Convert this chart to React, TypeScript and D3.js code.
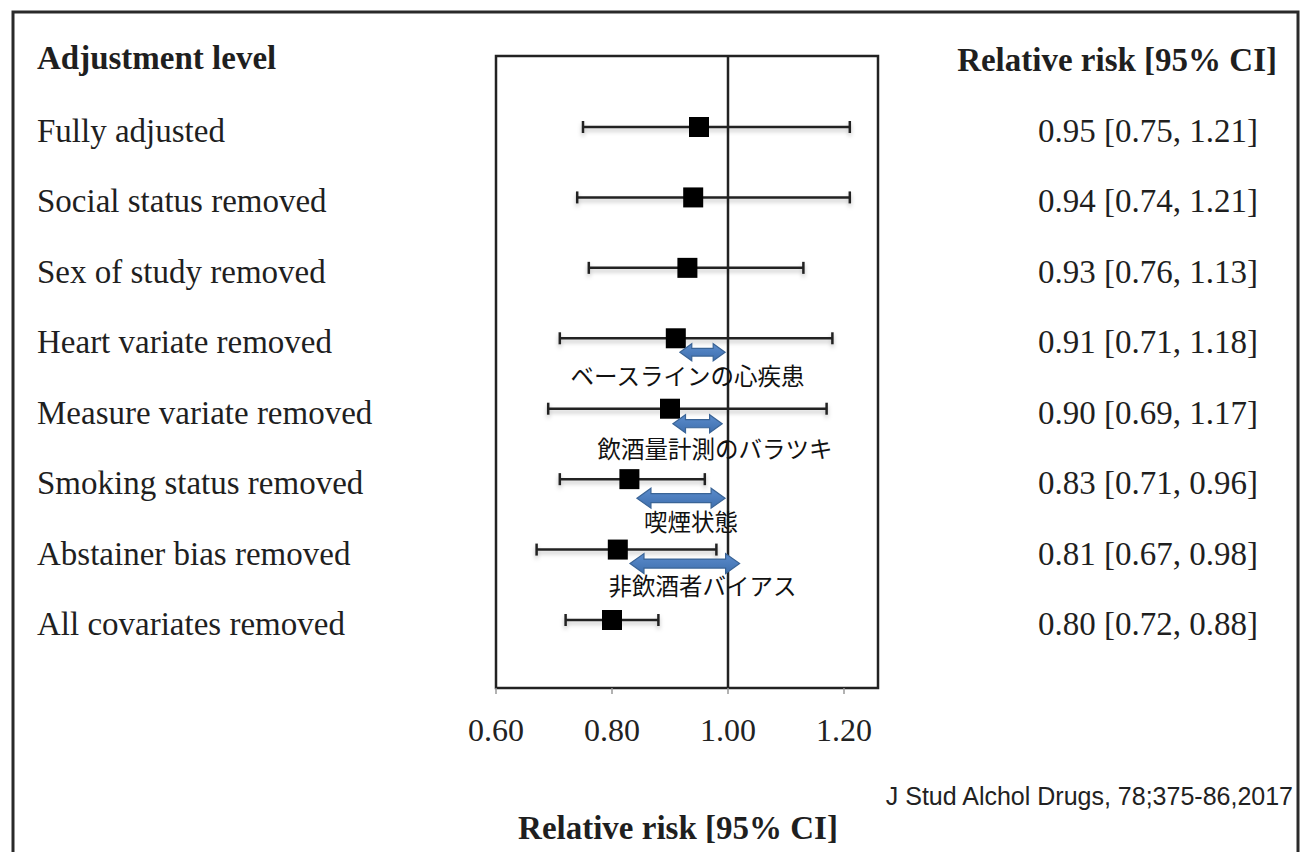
import React from "react";
import * as d3 from "d3";

const categories = [
  "Fully adjusted",
  "Social status removed",
  "Sex of study removed",
  "Heart variate removed",
  "Measure variate removed",
  "Smoking status removed",
  "Abstainer bias removed",
  "All covariates removed",
];
const estimates = [0.95, 0.94, 0.93, 0.91, 0.9, 0.83, 0.81, 0.8];
const lowerCI = [0.75, 0.74, 0.76, 0.71, 0.69, 0.71, 0.67, 0.72];
const upperCI = [1.21, 1.21, 1.13, 1.18, 1.17, 0.96, 0.98, 0.88];
const tickValues = [0.6, 0.8, 1.0, 1.2];

// Annotations (Japanese): row index, arrow span in RR units, label
const annotationRows = [3, 4, 5, 6];
const annotationFrom = [0.917, 0.905, 0.843, 0.831];
const annotationTo = [0.995, 0.99, 0.995, 1.02];
const annotationLabels = ["ベースラインの心疾患", "飲酒量計測のバラツキ", "喫煙状態", "非飲酒者バイアス"];

const W = 1301;
const H = 852;
const box = { left: 496, right: 878, top: 56, bottom: 688 };

const serif = "'Liberation Serif', 'Times New Roman', serif";
const textColor = "#1f1f1f";

export default function App() {
  const x = d3.scaleLinear().domain([0.6, 0.6 + (box.right - box.left) / 580]).range([box.left, box.right]);
  const y = d3.scalePoint<string>().domain(categories).range([127, 620]);
  const fmt = d3.format(".2f");

  // layout offsets for annotations (pixels)
  const arrowDy = [14, 15, 19, 14];
  const arrowH = [17, 18, 20, 20];
  const labelDy = [47, 49.5, 52, 45.5];
  const labelCx = [687.5, 715, 691, 702.5];

  const arrowPath = (x0: number, x1: number, cy: number, h: number) => {
    const s = h * 0.45;
    const hl = Math.min(h * 0.7, (x1 - x0) / 3);
    return [
      [x0, cy],
      [x0 + hl, cy - h / 2],
      [x0 + hl, cy - s / 2],
      [x1 - hl, cy - s / 2],
      [x1 - hl, cy - h / 2],
      [x1, cy],
      [x1 - hl, cy + h / 2],
      [x1 - hl, cy + s / 2],
      [x0 + hl, cy + s / 2],
      [x0 + hl, cy + h / 2],
    ]
      .map((p, i) => (i === 0 ? "M" : "L") + p[0] + "," + p[1])
      .join("") + "Z";
  };

  return (
    <svg
      width={W}
      height={H}
      viewBox={`0 0 ${W} ${H}`}
      style={{ position: "absolute", left: 0, top: 0, display: "block", background: "#fff" }}
    >
      <defs>
        <filter id="shadow" x="-10%" y="-100%" width="120%" height="400%">
          <feDropShadow dx="0" dy="3" stdDeviation="2" floodColor="#000" floodOpacity="0.25" />
        </filter>
        <linearGradient id="arrowGrad" x1="0" y1="0" x2="0" y2="1">
          <stop offset="0" stopColor="#5b8ccc" />
          <stop offset="1" stopColor="#3f6fae" />
        </linearGradient>
      </defs>
      <rect x={0} y={0} width={W} height={H} fill="#fff" />
      {/* outer frame */}
      <rect x={13} y={12} width={1298 - 13} height={900} fill="none" stroke="#2a2a2a" strokeWidth={3} />

      {/* headers */}
      <text x={37} y={69} fontFamily={serif} fontWeight="bold" fontSize={33} fill={textColor}>
        Adjustment level
      </text>
      <text x={1277} y={71} fontFamily={serif} fontWeight="bold" fontSize={33} fill={textColor} textAnchor="end">
        Relative risk [95% CI]
      </text>

      {/* plot box */}
      <rect
        x={box.left}
        y={box.top}
        width={box.right - box.left}
        height={box.bottom - box.top}
        fill="none"
        stroke="#222"
        strokeWidth={2.5}
      />
      {/* reference line at 1.00 */}
      <line x1={x(1)} x2={x(1)} y1={box.top} y2={box.bottom} stroke="#222" strokeWidth={2.5} />

      {/* ticks */}
      {tickValues.map((t) => (
        <g key={t}>
          <line x1={x(t)} x2={x(t)} y1={box.bottom} y2={box.bottom + 6} stroke="#999" strokeWidth={1.5} />
          <text
            x={x(t)}
            y={741}
            fontFamily={serif}
            fontSize={32}
            fill="#222"
            textAnchor="middle"
          >
            {fmt(t)}
          </text>
        </g>
      ))}

      {/* error bars */}
      <g filter="url(#shadow)">
        {categories.map((c, i) => {
          const cy = y(c)!;
          return (
            <g key={c}>
              <line x1={x(lowerCI[i])} x2={x(upperCI[i])} y1={cy} y2={cy} stroke="#222" strokeWidth={2.5} />
              <line x1={x(lowerCI[i])} x2={x(lowerCI[i])} y1={cy - 6} y2={cy + 6} stroke="#222" strokeWidth={2.5} />
              <line x1={x(upperCI[i])} x2={x(upperCI[i])} y1={cy - 6} y2={cy + 6} stroke="#222" strokeWidth={2.5} />
            </g>
          );
        })}
      </g>
      {categories.map((c, i) => {
        const cy = y(c)!;
        return <rect key={c} x={x(estimates[i]) - 10} y={cy - 10} width={20} height={20} fill="#000" />;
      })}

      {/* row labels and values */}
      {categories.map((c, i) => {
        const cy = y(c)!;
        return (
          <g key={c}>
            <text x={37} y={cy + 15} fontFamily={serif} fontSize={33} fill={textColor}>
              {c}
            </text>
            <text x={1258} y={cy + 15} fontFamily={serif} fontSize={33} fill={textColor} textAnchor="end">
              {`${fmt(estimates[i])} [${fmt(lowerCI[i])}, ${fmt(upperCI[i])}]`}
            </text>
          </g>
        );
      })}

      {/* annotations */}
      {annotationRows.map((r, k) => {
        const cy = y(categories[r])!;
        return (
          <g key={k}>
            <path
              d={arrowPath(x(annotationFrom[k]), x(annotationTo[k]), cy + arrowDy[k], arrowH[k])}
              fill="url(#arrowGrad)"
              stroke="#3a6496"
              strokeWidth={1.2}
            />
            <text
              x={labelCx[k]}
              y={cy + labelDy[k]}
              fontFamily="'Noto Sans CJK JP', sans-serif"
              fontSize={23.5}
              fill="#111"
              textAnchor="middle"
            >
              {annotationLabels[k]}
            </text>
          </g>
        );
      })}

      {/* bottom axis title */}
      <text x={678} y={839} fontFamily={serif} fontWeight="bold" fontSize={33} fill={textColor} textAnchor="middle">
        Relative risk [95% CI]
      </text>

      {/* citation */}
      <text
        x={1293}
        y={805}
        fontFamily="'Liberation Sans', Arial, sans-serif"
        fontSize={25}
        fill="#222"
        textAnchor="end"
      >
        J Stud Alchol Drugs, 78;375-86,2017
      </text>
    </svg>
  );
}
